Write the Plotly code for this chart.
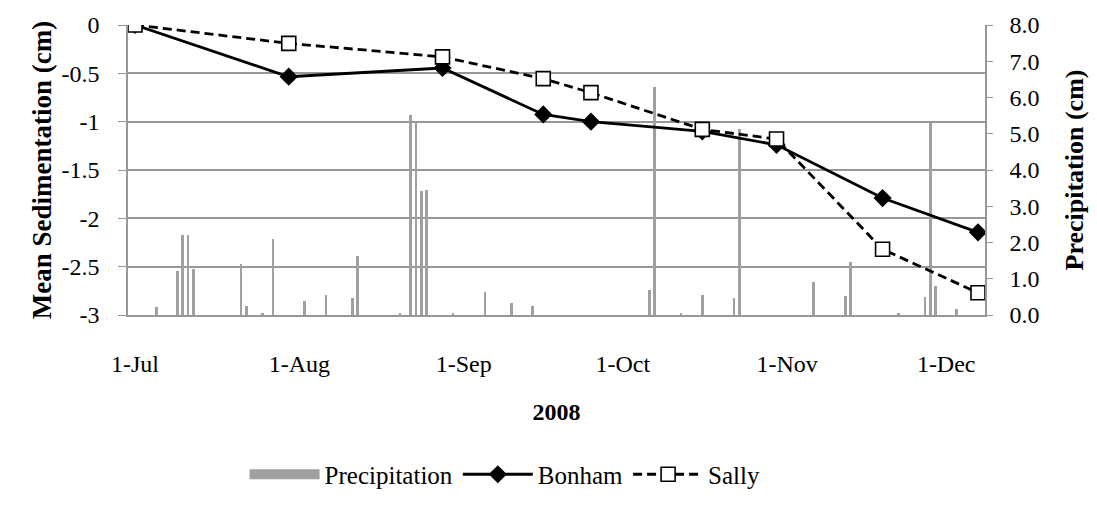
import plotly.graph_objects as go

# Daily precipitation (cm), 2008
precip_dates = [
    "2008-07-05", "2008-07-09", "2008-07-10", "2008-07-11", "2008-07-12",
    "2008-07-21", "2008-07-22", "2008-07-25", "2008-07-27", "2008-08-02",
    "2008-08-06", "2008-08-11", "2008-08-12", "2008-08-20", "2008-08-22",
    "2008-08-23", "2008-08-24", "2008-08-25", "2008-08-30", "2008-09-05",
    "2008-09-10", "2008-09-14", "2008-10-06", "2008-10-07", "2008-10-12",
    "2008-10-16", "2008-10-22", "2008-10-23", "2008-11-06", "2008-11-12",
    "2008-11-13", "2008-11-22", "2008-11-27", "2008-11-28", "2008-11-29",
    "2008-12-03",
]
precip_cm = [
    0.21, 1.21, 2.22, 2.22, 1.28,
    1.40, 0.24, 0.03, 2.09, 0.39,
    0.55, 0.47, 1.63, 0.04, 5.52,
    5.33, 3.41, 3.44, 0.04, 0.64,
    0.33, 0.26, 0.69, 6.30, 0.03,
    0.55, 0.47, 5.14, 0.92, 0.52,
    1.45, 0.03, 0.49, 5.31, 0.80,
    0.17,
]

# Mean sedimentation (cm) at each sampling date
sample_dates = [
    "2008-07-01", "2008-07-30", "2008-08-28", "2008-09-16", "2008-09-25",
    "2008-10-16", "2008-10-30", "2008-11-19", "2008-12-07",
]
bonham_cm = [0.0, -0.535, -0.445, -0.925, -1.00, -1.10, -1.24, -1.79, -2.145]
sally_cm = [0.0, -0.19, -0.33, -0.555, -0.70, -1.08, -1.18, -2.32, -2.77]

month_ticks = ["2008-07-01", "2008-08-01", "2008-09-01", "2008-10-01", "2008-11-01", "2008-12-01"]
sed_ticks = [0, -0.5, -1, -1.5, -2, -2.5, -3]
sed_labels = ["0", "-0.5", "-1", "-1.5", "-2", "-2.5", "-3"]
precip_ticks = [0, 1, 2, 3, 4, 5, 6, 7, 8]

FONT = "Liberation Serif, Times New Roman, serif"
GRID = "#979797"
BAR = "#a0a0a0"

fig = go.Figure()

fig.add_trace(go.Bar(
    x=precip_dates, y=precip_cm, name="Precipitation",
    marker=dict(color=BAR, line=dict(width=0)),
    width=0.5 * 86400000, yaxis="y", showlegend=False,
))
# legend entry for the precipitation bars (wide grey swatch)
fig.add_trace(go.Scatter(
    x=[None], y=[None], name="Precipitation", mode="lines",
    line=dict(color=BAR, width=11), yaxis="y",
))
fig.add_trace(go.Scatter(
    x=sample_dates, y=bonham_cm, name="Bonham", mode="lines+markers",
    line=dict(color="black", width=2.8),
    marker=dict(symbol="diamond", size=14, color="black"),
    yaxis="y2",
))
fig.add_trace(go.Scatter(
    x=sample_dates, y=sally_cm, name="Sally", mode="lines+markers",
    line=dict(color="black", width=2.8, dash="9px,5px"),
    marker=dict(symbol="square", size=14, color="white", line=dict(color="black", width=1.6)),
    yaxis="y2",
))

fig.update_layout(
    width=1097, height=510,
    margin=dict(l=128, r=112, t=20, b=187),
    paper_bgcolor="white", plot_bgcolor="white",
    font=dict(family=FONT, size=24, color="black"),
    showlegend=True,
    legend=dict(
        orientation="h", x=0.44, xanchor="center", y=-0.55, yanchor="middle",
        font=dict(family=FONT, size=25), itemwidth=70, traceorder="normal",
    ),
    bargap=0,
    xaxis=dict(
        type="date",
        range=["2008-06-29 16:20", "2008-12-08 07:40"],
        tickvals=month_ticks, tickformat="%-d-%b",
        showgrid=False, showline=True, linecolor=GRID, linewidth=1.5,
        ticks="", ticklabelstandoff=26, zeroline=False,
        title=dict(text="<b>2008</b>", font=dict(family=FONT, size=24), standoff=28),
    ),
    yaxis=dict(
        side="right", range=[0, 8], tickvals=precip_ticks, tickformat=".1f",
        showgrid=False, zeroline=False, showline=True, linecolor=GRID, linewidth=1.5,
        ticks="outside", ticklen=6, tickcolor=GRID, ticklabelstandoff=12,
        title=dict(text="<b>Precipitation (cm)</b>", font=dict(family=FONT, size=26), standoff=26),
    ),
    yaxis2=dict(
        overlaying="y", side="left", range=[-3, 0],
        tickvals=sed_ticks, ticktext=sed_labels,
        showgrid=True, gridcolor=GRID, gridwidth=1.5, zeroline=False,
        showline=True, linecolor=GRID, linewidth=1.5,
        ticks="outside", ticklen=8, tickcolor=GRID, ticklabelstandoff=14,
        title=dict(text="<b>Mean Sedimentation (cm)</b>", font=dict(family=FONT, size=27), standoff=2),
    ),
)

fig.write_html("out.html")
